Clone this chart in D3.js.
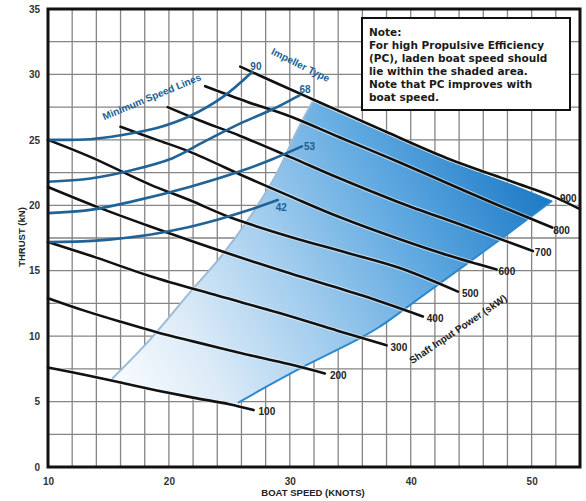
<!DOCTYPE html>
<html>
<head>
<meta charset="utf-8">
<script src="https://cdn.jsdelivr.net/npm/d3@7"></script>
<style>
  html, body { margin: 0; padding: 0; background: #fff; }
  svg { display: block; }
  .tick-label { font-family: "Liberation Sans", Arial, sans-serif; font-weight: bold; font-size: 10px; fill: #333; }
  .axis-title { font-family: "Liberation Sans", Arial, sans-serif; font-weight: bold; font-size: 9.5px; fill: #222; }
  .kw-label { font-family: "Liberation Sans", Arial, sans-serif; font-weight: bold; font-size: 10px; fill: #222; }
  .imp-label { font-family: "Liberation Sans", Arial, sans-serif; font-weight: bold; font-size: 10px; fill: #1c5f94; }
  .note { font-family: "DejaVu Sans", sans-serif; font-weight: bold; font-size: 10.5px; fill: #1a1a1a; }
</style>
</head>
<body>
<svg id="chart" width="586" height="501"></svg>
<script>
// Axis ticks
const speedTicks = [10, 20, 30, 40, 50];
const thrustTicks = [0, 5, 10, 15, 20, 25, 30, 35];
const speedGrid = d3.range(10, 54.01, 2);
const thrustGrid = d3.range(0, 35.01, 2.5);

// Shaft input power curves (kW): [boat speed knots, thrust kN]
const powerLabels = ["100", "200", "300", "400", "500", "600", "700", "800", "900"];
const p100 = [[10, 7.6], [13, 7.05], [16, 6.45], [19, 5.85], [22, 5.3], [25, 4.8], [27, 4.35]];
const p200 = [[10, 12.9], [13, 11.95], [16, 11.1], [19, 10.3], [22, 9.6], [26, 8.7], [30, 7.85], [32.9, 7.15]];
const p300 = [[10, 17.2], [14, 16.0], [18.4, 14.6], [24, 13.1], [29, 11.8], [34, 10.4], [38, 9.3]];
const p400 = [[10, 21.4], [14, 19.9], [18.4, 18.4], [24, 16.6], [30, 14.8], [36, 13.1], [41, 11.5]];
const p500 = [[10, 25.0], [13.5, 23.7], [18.4, 21.6], [21.7, 20.4], [25, 19.1], [30, 17.6], [35, 16.3], [39.1, 15.2], [43.9, 13.4]];
const p600 = [[16, 26.0], [19, 25.0], [21.7, 24.1], [26.5, 22.1], [30, 20.7], [34.1, 19.1], [39.1, 17.4], [43, 16.2], [47.1, 15.1]];
const p700 = [[19.9, 27.5], [22.5, 26.5], [25.9, 25.3], [30, 23.7], [34, 22.1], [39.1, 20.2], [44.5, 18.4], [50.1, 16.5]];
const p800 = [[23, 29.1], [26.5, 27.9], [30, 26.8], [34.1, 25.2], [38, 23.7], [42, 22.1], [47, 20.1], [51.7, 18.3]];
const p900 = [[25.9, 30.6], [28.5, 29.5], [31.4, 28.3], [34.1, 27.2], [38, 25.6], [43, 23.6], [48.4, 21.8], [51.7, 20.7], [54, 19.7]];

// Minimum speed lines per impeller type
const impellerLabels = ["90", "68", "53", "42"];
const imp90 = [[10, 25.0], [13.5, 25.05], [16, 25.35], [19, 25.9], [21.7, 26.8], [24.5, 28.3], [26.9, 30.2]];
const imp68 = [[10, 21.8], [13.5, 22.05], [17, 22.7], [20.3, 23.6], [23, 24.9], [26, 26.3], [28.5, 27.3], [30.8, 28.4]];
const imp53 = [[10, 19.4], [13.5, 19.65], [17, 20.3], [21.7, 21.4], [25.9, 22.6], [28.5, 23.5], [31, 24.5]];
const imp42 = [[10, 17.2], [14, 17.3], [18.4, 17.75], [21, 18.2], [24, 18.9], [26.5, 19.6], [29, 20.4]];

// Boundaries of the recommended operating zone
const zoneLeft = [[15.3, 6.75], [18.4, 9.7], [21.7, 13.3], [24.4, 16.2], [26.7, 19.1], [28.9, 22.4], [30.6, 25.7], [31.9, 27.95]];
const zoneTop = [[31.9, 27.95], [34.1, 27.05], [38, 25.45], [43, 23.45], [48.4, 21.6], [51.7, 20.35]];
const zoneRight = [[51.7, 20.35], [48, 17.8], [44.6, 15.5], [41, 13.1], [37.4, 10.7], [35.5, 9.7], [31.4, 7.8], [28, 6.1], [25.7, 4.9]];
const zoneBottom = [[25.7, 4.9], [22, 5.35], [19, 5.95], [15.3, 6.75]];

const noteLines = ["Note:", "For high Propulsive Efficiency", "(PC), laden boat speed should", "lie within the shaded area.", "Note that PC improves with", "boat speed."];

const svg = d3.select("#chart");
const x = d3.scaleLinear().domain([10, 54]).range([48, 580]);
const y = d3.scaleLinear().domain([0, 35]).range([467, 9]);

const smooth = d3.line().x(d => x(d[0])).y(d => y(d[1])).curve(d3.curveCatmullRom.alpha(0.5));

// Grid
const grid = svg.append("g");
grid.selectAll("line.v").data(speedGrid).join("line")
  .attr("x1", d => x(d)).attr("x2", d => x(d)).attr("y1", y(0)).attr("y2", y(35))
  .attr("stroke", "#858585").attr("stroke-width", 1.3);
grid.selectAll("line.h").data(thrustGrid).join("line")
  .attr("y1", d => y(d)).attr("y2", d => y(d)).attr("x1", x(10)).attr("x2", x(54))
  .attr("stroke", "#858585").attr("stroke-width", 1.3);

// Shaded zone with gradient
const defs = svg.append("defs");
const grad = defs.append("linearGradient").attr("id", "zoneGrad")
  .attr("gradientUnits", "userSpaceOnUse")
  .attr("x1", x(15)).attr("y1", y(4)).attr("x2", x(52)).attr("y2", y(21));
[[0, "#ffffff"], [0.22, "#dcebf7"], [0.45, "#a3cdee"], [0.7, "#5ea8e0"], [1, "#1877c4"]]
  .forEach(s => grad.append("stop").attr("offset", s[0]).attr("stop-color", s[1]));

const seg = pts => smooth(pts);
const joinSeg = pts => seg(pts).replace(/^M/, "L");
const zonePath = seg(zoneLeft) + joinSeg(zoneTop) + joinSeg(zoneRight) + joinSeg(zoneBottom) + "Z";
svg.append("path").attr("d", zonePath).attr("fill", "url(#zoneGrad)");
svg.append("path").attr("d", seg(zoneLeft)).attr("fill", "none").attr("stroke", "#9dbad6").attr("stroke-width", 2);
svg.append("path").attr("d", seg(zoneRight)).attr("fill", "none").attr("stroke", "#2d89cf").attr("stroke-width", 2);

// Power curves
const powerCurves = [p100, p200, p300, p400, p500, p600, p700, p800, p900];
const pg = svg.append("g");
pg.selectAll("path.halo").data(powerCurves).join("path").attr("class", "halo")
  .attr("d", smooth).attr("fill", "none").attr("stroke", "rgba(255,255,255,0.55)").attr("stroke-width", 4.5);
pg.selectAll("path.curve").data(powerCurves).join("path").attr("class", "curve")
  .attr("d", smooth).attr("fill", "none").attr("stroke", "#111").attr("stroke-width", 2.6).attr("stroke-linecap", "round");

// Power labels at curve ends
const kwOffsets = [[5, 1], [5, 2], [4, 2], [4, 2], [4, 2], [2, 2], [2, 1], [1, 3], [-20, -11]];
pg.selectAll("text").data(powerCurves).join("text")
  .attr("class", "kw-label")
  .attr("x", (d, i) => x(d[d.length - 1][0]) + kwOffsets[i][0])
  .attr("y", (d, i) => y(d[d.length - 1][1]) + kwOffsets[i][1])
  .attr("dy", "0.35em")
  .text((d, i) => powerLabels[i]);

// Minimum speed lines
const impCurves = [imp90, imp68, imp53, imp42];
const ig = svg.append("g");
ig.selectAll("path").data(impCurves).join("path")
  .attr("d", smooth).attr("fill", "none").attr("stroke", "#1f6397").attr("stroke-width", 2.6).attr("stroke-linecap", "round");
const impOffsets = [[-2, -5], [0, -6], [2, 0], [-2, 7]];
ig.selectAll("text").data(impCurves).join("text")
  .attr("class", "imp-label")
  .attr("x", (d, i) => x(d[d.length - 1][0]) + impOffsets[i][0])
  .attr("y", (d, i) => y(d[d.length - 1][1]) + impOffsets[i][1])
  .attr("dy", "0.35em")
  .text((d, i) => impellerLabels[i]);

// Curve family captions
svg.append("text").attr("class", "imp-label").attr("text-anchor", "middle")
  .attr("transform", `translate(153,100) rotate(-22.5)`).text("Minimum Speed Lines");
svg.append("text").attr("class", "imp-label").attr("text-anchor", "middle")
  .attr("transform", `translate(299,68) rotate(26.5)`).text("Impeller Type");
svg.append("text").attr("class", "kw-label").attr("text-anchor", "middle")
  .attr("transform", `translate(460,332) rotate(-34)`).text("Shaft Input Power (skW)");

// Frame
svg.append("rect").attr("x", x(10)).attr("y", y(35)).attr("width", x(54) - x(10)).attr("height", y(0) - y(35))
  .attr("fill", "none").attr("stroke", "#111").attr("stroke-width", 3);

// Axes labels
const xAxis = d3.axisBottom(x).tickValues(speedTicks).tickSize(0).tickPadding(11).tickFormat(d3.format("d"));
const gx = svg.append("g").attr("transform", `translate(0,${y(0)})`).call(xAxis);
gx.select(".domain").remove();
gx.selectAll("text").attr("class", "tick-label").attr("fill", null).attr("font-size", null).attr("font-family", null);
gx.attr("font-size", null).attr("font-family", null);

const yAxis = d3.axisLeft(y).tickValues(thrustTicks).tickSize(0).tickPadding(8).tickFormat(d3.format("d"));
const gy = svg.append("g").attr("transform", `translate(${x(10)},0)`).call(yAxis);
gy.select(".domain").remove();
gy.selectAll("text").attr("class", "tick-label").attr("fill", null).attr("font-size", null).attr("font-family", null);
gy.attr("font-size", null).attr("font-family", null);

svg.append("text").attr("class", "axis-title").attr("text-anchor", "middle")
  .attr("x", 313).attr("y", 496).text("BOAT SPEED (KNOTS)");
svg.append("text").attr("class", "axis-title").attr("text-anchor", "middle")
  .attr("transform", "translate(25,237) rotate(-90)").text("THRUST (kN)");

// Note box
const note = svg.append("g");
note.append("rect").attr("x", 362).attr("y", 18).attr("width", 208).attr("height", 92)
  .attr("fill", "#fff").attr("stroke", "#111").attr("stroke-width", 2);
note.selectAll("text").data(noteLines).join("text")
  .attr("class", "note")
  .attr("x", 369).attr("y", (d, i) => 35.5 + i * 13)
  .text(d => d);
</script>
</body>
</html>
